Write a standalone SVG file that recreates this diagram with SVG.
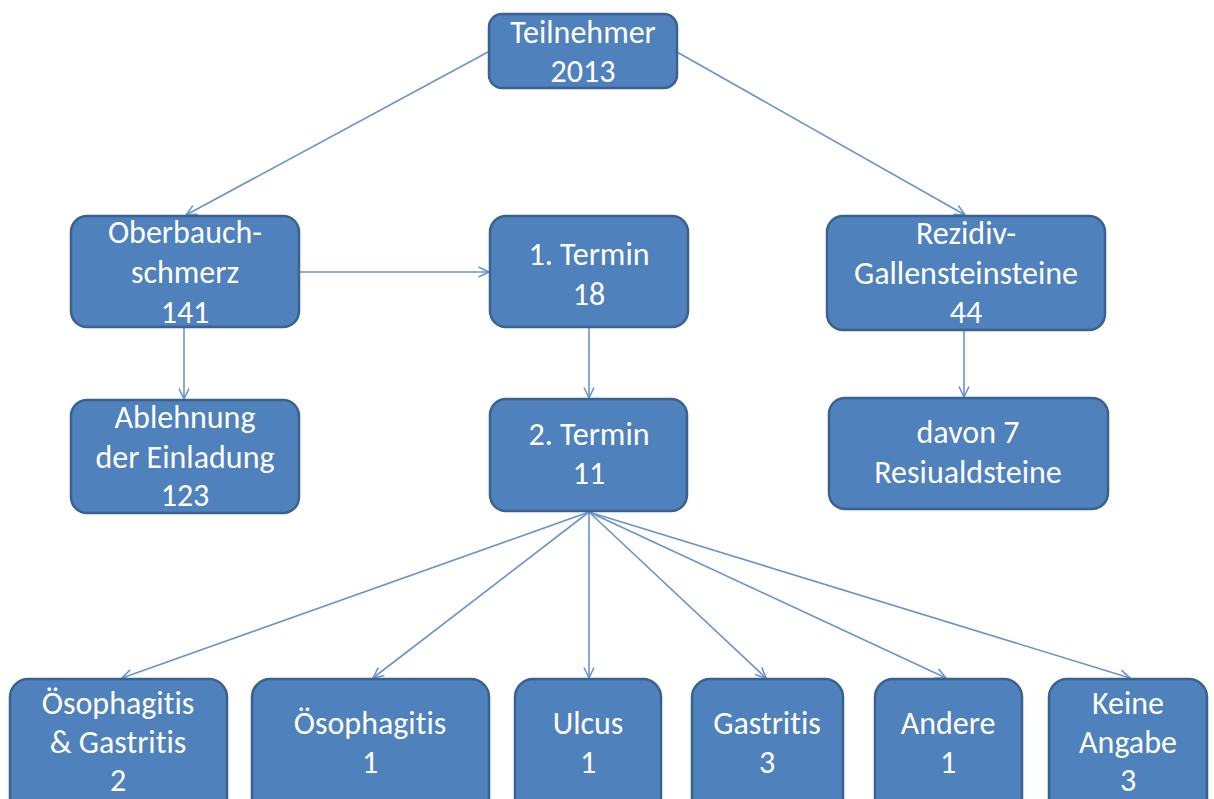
<svg xmlns="http://www.w3.org/2000/svg" width="1214" height="799" viewBox="0 0 1214 799">
<style>
.box{fill:#4F81BD;stroke:#3A6290;stroke-width:2.5}
.t{font-family:Carlito,Lato,"Liberation Sans",sans-serif;font-size:32px;fill:#FFFFFF;text-anchor:middle;font-variant-ligatures:none;font-feature-settings:"liga" 0}
.c{stroke:#6A94C9;stroke-width:1.6;fill:none;marker-end:url(#ah)}
</style>
<defs>
<marker id="ah" viewBox="0 0 12 12" refX="11.5" refY="6" markerWidth="12" markerHeight="12" markerUnits="userSpaceOnUse" orient="auto">
<path d="M1,1 L11.5,6 L1,11" fill="none" stroke="#6A94C9" stroke-width="1.6"/>
</marker>
</defs>
<rect width="1214" height="799" fill="#FFFFFF"/>
<g id="connectors">
<line class="c" x1="488" y1="52" x2="186" y2="215"/>
<line class="c" x1="677" y1="52" x2="965" y2="215"/>
<line class="c" x1="299" y1="272" x2="489" y2="272"/>
<line class="c" x1="184" y1="327" x2="184" y2="399"/>
<line class="c" x1="589" y1="327" x2="589" y2="398"/>
<line class="c" x1="964" y1="330" x2="964" y2="397"/>
<line class="c" x1="589" y1="512" x2="122" y2="678"/>
<line class="c" x1="589" y1="512" x2="373" y2="678"/>
<line class="c" x1="589" y1="512" x2="589" y2="678"/>
<line class="c" x1="589" y1="512" x2="766" y2="678"/>
<line class="c" x1="589" y1="512" x2="946" y2="678"/>
<line class="c" x1="589" y1="512" x2="1130" y2="678"/>
</g>
<g id="teilnehmer">
<rect class="box" x="489" y="14" width="188" height="74" rx="13"/>
<text class="t" x="583" y="43">Teilnehmer</text>
<text class="t" x="583" y="82">2013</text>
</g>
<g id="oberbauch">
<rect class="box" x="71" y="216" width="228" height="111" rx="16"/>
<text class="t" x="185" y="243">Oberbauch-</text>
<text class="t" x="185" y="283">schmerz</text>
<text class="t" x="185" y="323">141</text>
</g>
<g id="termin1">
<rect class="box" x="490" y="216" width="198" height="111" rx="16"/>
<text class="t" x="589" y="265">1. Termin</text>
<text class="t" x="589" y="305">18</text>
</g>
<g id="rezidiv">
<rect class="box" x="827" y="216" width="278" height="114" rx="16"/>
<text class="t" x="966" y="244">Rezidiv-</text>
<text class="t" x="966" y="284">Gallensteinsteine</text>
<text class="t" x="966" y="323">44</text>
</g>
<g id="ablehnung">
<rect class="box" x="71" y="400" width="228" height="113" rx="16"/>
<text class="t" x="185" y="428">Ablehnung</text>
<text class="t" x="185" y="468">der Einladung</text>
<text class="t" x="185" y="506">123</text>
</g>
<g id="termin2">
<rect class="box" x="490" y="399" width="197" height="112" rx="16"/>
<text class="t" x="589" y="445">2. Termin</text>
<text class="t" x="589" y="484">11</text>
</g>
<g id="davon">
<rect class="box" x="829" y="398" width="279" height="111" rx="16"/>
<text class="t" x="968" y="443">davon 7</text>
<text class="t" x="968" y="483">Resiualdsteine</text>
</g>
<g id="oesophagitis-gastritis">
<rect class="box" x="10" y="679" width="217" height="140" rx="18"/>
<text class="t" x="118" y="714">Ösophagitis</text>
<text class="t" x="118" y="753">&amp; Gastritis</text>
<text class="t" x="118" y="791">2</text>
</g>
<g id="oesophagitis">
<rect class="box" x="252" y="679" width="237" height="140" rx="18"/>
<text class="t" x="370" y="734">Ösophagitis</text>
<text class="t" x="370" y="773">1</text>
</g>
<g id="ulcus">
<rect class="box" x="515" y="679" width="146" height="140" rx="18"/>
<text class="t" x="588" y="734">Ulcus</text>
<text class="t" x="588" y="773">1</text>
</g>
<g id="gastritis">
<rect class="box" x="692" y="679" width="151" height="140" rx="18"/>
<text class="t" x="767" y="734">Gastritis</text>
<text class="t" x="767" y="773">3</text>
</g>
<g id="andere">
<rect class="box" x="875" y="679" width="147" height="140" rx="18"/>
<text class="t" x="948" y="734">Andere</text>
<text class="t" x="948" y="773">1</text>
</g>
<g id="keine-angabe">
<rect class="box" x="1049" y="679" width="158" height="140" rx="18"/>
<text class="t" x="1128" y="714">Keine</text>
<text class="t" x="1128" y="753">Angabe</text>
<text class="t" x="1128" y="791">3</text>
</g>
</svg>
